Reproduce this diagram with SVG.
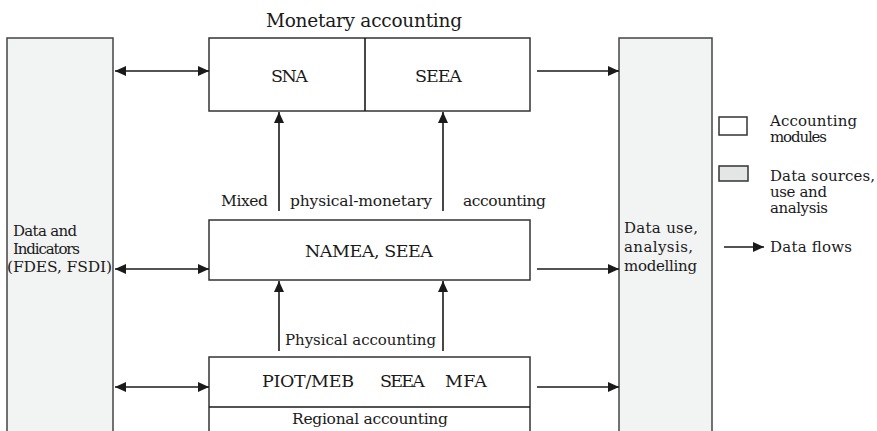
<svg xmlns="http://www.w3.org/2000/svg" width="877" height="431" viewBox="0 0 877 431" font-family="'DejaVu Serif', serif">
<style>
text{font-size:15.5px;fill:#1a1a1a}
.title{font-size:18.5px}
.cap{font-size:17.5px}
.sm{font-size:15px}
.leg{font-size:15px}
.mod{fill:#fff;stroke:#333;stroke-width:1.5}
.src{fill:#f2f3f3;stroke:#444;stroke-width:1.5}
.line{stroke:#1a1a1a;stroke-width:1.6;fill:none}
.c{text-anchor:middle}
</style>
<defs>
<marker id="ah" markerUnits="userSpaceOnUse" markerWidth="12" markerHeight="10" refX="11" refY="5" orient="auto-start-reverse">
<path d="M0,0 L11,5 L0,10 Z" fill="#1a1a1a"/>
</marker>
</defs>

<g id="data-indicators">
<rect class="src" x="7" y="38" width="106" height="410"/>
<text class="sm" x="13" y="236" textLength="64">Data and</text>
<text class="sm" x="13" y="254" textLength="67">Indicators</text>
<text x="7" y="272" textLength="105">(FDES, FSDI)</text>
</g>

<g id="data-use">
<rect class="src" x="619" y="38" width="93" height="410"/>
<text class="sm" x="624" y="233" textLength="74">Data use,</text>
<text class="sm" x="624" y="252" textLength="69">analysis,</text>
<text class="sm" x="624" y="271" textLength="73">modelling</text>
</g>

<g id="monetary">
<text class="title" x="266" y="27" textLength="196">Monetary accounting</text>
<rect class="mod" x="209" y="38" width="321" height="73"/>
<line class="line" x1="365" y1="38" x2="365" y2="111"/>
<text class="cap" x="271" y="82" textLength="37">SNA</text>
<text class="cap" x="415" y="82" textLength="47">SEEA</text>
</g>

<g id="mixed">
<text x="221" y="206" textLength="47">Mixed</text>
<text x="290" y="206" textLength="142">physical-monetary</text>
<text x="463" y="206" textLength="83">accounting</text>
<rect class="mod" x="209" y="220" width="321" height="60"/>
<text class="cap" x="305" y="257" textLength="128">NAMEA, SEEA</text>
</g>

<g id="physical">
<text class="sm" x="285" y="345" textLength="151">Physical accounting</text>
<rect class="mod" x="209" y="357" width="321" height="90"/>
<line class="line" x1="209" y1="407" x2="530" y2="407"/>
<text class="cap" x="262" y="387" textLength="92">PIOT/MEB</text>
<text class="cap" x="380" y="387" textLength="45">SEEA</text>
<text class="cap" x="445" y="387" textLength="42">MFA</text>
<text x="292" y="424" textLength="156">Regional accounting</text>
</g>

<g id="legend">
<rect class="mod" x="719" y="117" width="28" height="18"/>
<text class="leg" x="770" y="126" textLength="87">Accounting</text>
<text class="leg" x="770" y="142" textLength="57">modules</text>
<rect x="719" y="166" width="29" height="15" fill="#e4e5e5" stroke="#333" stroke-width="1.5"/>
<text class="leg" x="770" y="181" textLength="105">Data sources,</text>
<text class="leg" x="770" y="197" textLength="57">use and</text>
<text class="leg" x="770" y="213" textLength="58">analysis</text>
<line class="line" x1="724" y1="247" x2="764" y2="247" marker-end="url(#ah)"/>
<text class="leg" x="770" y="252" textLength="82">Data flows</text>
</g>

<g id="connectors">
<line class="line" x1="115" y1="71" x2="209" y2="71" marker-start="url(#ah)" marker-end="url(#ah)"/>
<line class="line" x1="537" y1="71" x2="619" y2="71" marker-end="url(#ah)"/>
<line class="line" x1="115" y1="269" x2="209" y2="269" marker-start="url(#ah)" marker-end="url(#ah)"/>
<line class="line" x1="537" y1="269" x2="619" y2="269" marker-end="url(#ah)"/>
<line class="line" x1="115" y1="387" x2="209" y2="387" marker-start="url(#ah)" marker-end="url(#ah)"/>
<line class="line" x1="537" y1="387" x2="619" y2="387" marker-end="url(#ah)"/>
<line class="line" x1="279" y1="211" x2="279" y2="112" marker-end="url(#ah)"/>
<line class="line" x1="443" y1="211" x2="443" y2="112" marker-end="url(#ah)"/>
<line class="line" x1="279" y1="351" x2="279" y2="281" marker-end="url(#ah)"/>
<line class="line" x1="443" y1="351" x2="443" y2="281" marker-end="url(#ah)"/>
</g>
</svg>
